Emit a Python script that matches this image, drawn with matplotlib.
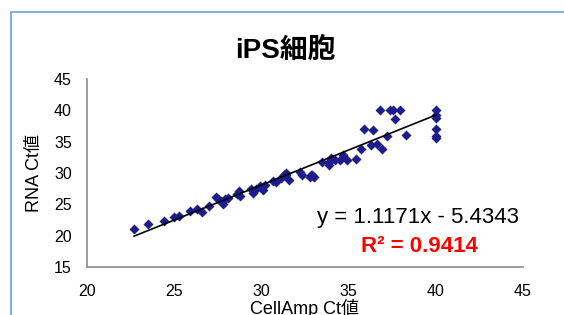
import numpy as np
import matplotlib
matplotlib.use("Agg")
import matplotlib.pyplot as plt
from matplotlib.patches import Rectangle

plt.rcParams['font.family'] = ['Liberation Sans', 'Noto Sans CJK JP', 'DejaVu Sans']

# Datos (CellAmp Ct, RNA Ct)
cellamp_ct = [22.7, 23.5, 24.4, 25.0, 25.25, 25.9, 26.3, 26.6, 27.0,
              27.4, 27.5, 27.7, 27.8, 27.9, 28.1, 28.7, 28.6, 28.8,
              29.4, 29.5, 29.7, 29.9, 30.1, 30.2, 30.65, 30.85,
              31.3, 31.4, 31.6, 31.1, 31.4, 32.2, 32.3, 32.85, 32.9,
              33.0, 32.8, 33.5, 33.9, 33.9, 34.0, 34.2, 34.5, 34.7,
              34.9, 35.4, 35.7, 35.9, 36.3, 36.4, 36.65, 36.9, 36.78,
              37.36, 37.53, 37.97, 37.64, 37.2, 38.3,
              40.0, 40.0, 40.0, 40.0, 40.0, 40.0]
rna_ct = [21.0, 21.9, 22.3, 22.9, 23.1, 24.0, 24.3, 23.8, 24.7,
          26.2, 25.8, 25.5, 25.0, 25.8, 26.0, 27.2, 26.6, 26.3,
          27.4, 26.8, 27.5, 27.9, 27.3, 28.1, 28.65, 28.5,
          29.7, 30.0, 28.9, 29.2, 29.7, 30.2, 29.7, 29.7, 29.7,
          29.4, 29.4, 31.8, 31.8, 31.3, 32.4, 32.1, 32.1, 32.9,
          32.1, 32.2, 33.9, 37.1, 34.5, 36.8, 34.7, 33.8, 40.0,
          40.0, 40.0, 40.0, 38.6, 35.9, 36.1,
          40.0, 39.2, 38.7, 37.0, 35.9, 35.6]

slope = 1.1171
intercept = -5.4343
r2 = 0.9414

fig = plt.figure(figsize=(5.64, 3.15), dpi=100)
ax = fig.add_axes([87 / 564, 1 - 267 / 315, 436 / 564, 188 / 315])

ax.scatter(cellamp_ct, rna_ct, marker='D', s=26, color='#1c1c8c', zorder=3, linewidths=0)

xl = np.array([min(cellamp_ct), max(cellamp_ct)])
ax.plot(xl, slope * xl + intercept, color='black', lw=1.2, zorder=4)

ax.set_xlim(20, 45)
ax.set_ylim(15, 45)
ax.set_xticks([20, 25, 30, 35, 40, 45])
ax.set_yticks([15, 20, 25, 30, 35, 40, 45])
ax.tick_params(length=0, labelsize=11.5)
ax.tick_params(axis='x', pad=12)
ax.tick_params(axis='y', pad=11)
for s in ['top', 'right']:
    ax.spines[s].set_visible(False)
for s in ['left', 'bottom']:
    ax.spines[s].set_color('#8c8c8c')
    ax.spines[s].set_linewidth(1.2)

fig.text(285.5 / 564, 1 - 51 / 315, 'iPS細胞', fontsize=20, fontweight='bold',
         ha='center', va='center')
fig.text(35 / 564, 1 - 173 / 315, 'RNA Ct値', fontsize=13, rotation=90,
         ha='center', va='center')
fig.text(305 / 564, 1 - 299 / 315, 'CellAmp Ct値', fontsize=13,
         ha='center', va='top')

fig.text(418 / 564, 1 - 218 / 315, f'y = {slope:.4f}x - {abs(intercept):.4f}',
         fontsize=16, ha='center', va='center')
fig.text(419 / 564, 1 - 247 / 315, f'R² = {r2:.4f}', fontsize=16,
         fontweight='bold', color='#ff0000', ha='center', va='center')

# marco del gráfico
fig.add_artist(Rectangle((11 / 564, -0.2), 1.2, 1.2 - 12 / 315,
                         transform=fig.transFigure, fill=False,
                         edgecolor='#7fb2e5', lw=1.5))

fig.savefig('out.png', dpi=100)
